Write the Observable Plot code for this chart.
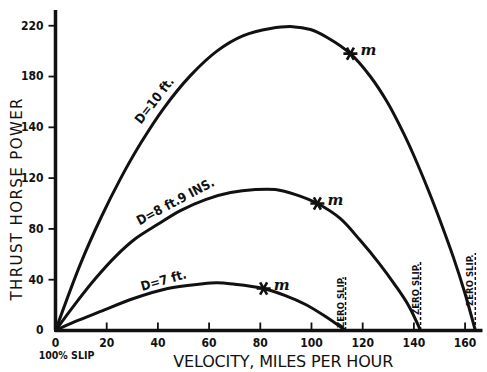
<!DOCTYPE html>
<html>
<head>
<meta charset="utf-8">
<script src="https://cdn.jsdelivr.net/npm/d3@7"></script>
<script src="https://cdn.jsdelivr.net/npm/@observablehq/plot@0.6"></script>
<style>
  html, body { margin: 0; padding: 0; background: #fff; }
  #chart svg { display: block; }
</style>
</head>
<body>
<div id="chart"></div>
<script>
// Thrust horse power of a propeller against velocity, for three diameters.

// Series names
const seriesNames = ["D=10 ft.", "D=8 ft.9 INS.", "D=7 ft."];

// D = 10 ft.
const velocity10 = [0, 9.8, 17.6, 25.4, 33.2, 42.2, 52.7, 63.3, 73.4, 84.0, 92.6, 99.6, 106.3, 115.2, 123.0, 129.7, 135.9, 139.8, 145.7, 150.8, 155.5, 159.8, 164.0];
const thrust10   = [0, 52.7, 88.2, 119.6, 133.6, 154.8, 180.7, 200.4, 212.2, 217.8, 219.3, 217.0, 210.6, 198.0, 180.0, 159.5, 137.8, 129.3, 110.2, 83.5, 57.2, 30.3, 0];

// D = 8 ft. 9 ins.
const velocity875 = [0, 7.8, 15.6, 23.4, 31.3, 39.8, 48.8, 58.6, 68.4, 78.1, 85.9, 93.8, 102.3, 111.3, 119.1, 126.2, 132.8, 137.9, 142.6];
const thrust875   = [0, 21.2, 40.9, 58.2, 72.4, 83.4, 94.4, 103.1, 108.6, 111.0, 111.0, 107.0, 100.0, 88.1, 70.8, 53.5, 35.4, 19.7, 0];

// D = 7 ft.
const velocity7 = [0, 7.8, 17.6, 30.5, 43.8, 56.6, 63.0, 69.5, 81.3, 89.8, 97.7, 105.5, 113.3];
const thrust7   = [0, 7.1, 15.0, 25.2, 33.1, 36.6, 37.6, 36.6, 33.1, 27.5, 20.5, 11.0, 0];

// Points marked "m" on each curve (same order as seriesNames)
const mVelocity = [115.2, 102.3, 81.3];
const mThrust   = [198.0, 100.0, 33.1];

// Zero-slip velocities (where each curve meets the axis) and height of the dashed marker
const zeroSlipVelocity = [164.0, 142.6, 113.3];
const zeroSlipHeight   = [60.6, 53.5, 43.3];

// Axis ticks as printed
const xTicks = [0, 20, 40, 60, 80, 100, 120, 140, 160];
const yTicks = [0, 40, 80, 120, 140, 180, 220];
const yTop = 232;

const xTitle = "VELOCITY, MILES PER HOUR";
const yTitle = "THRUST HORSE POWER";
const slipNote = "100% SLIP";
const zeroSlipNote = "ZERO SLIP.";
const markNote = "m";

// ---- build tables ----
const seriesX = [velocity10, velocity875, velocity7];
const seriesY = [thrust10, thrust875, thrust7];
const rows = seriesNames.flatMap((name, s) =>
  seriesX[s].map((v, i) => ({series: name, velocity: v, thrust: seriesY[s][i]})));
const marked = seriesNames.map((name, i) => ({series: name, velocity: mVelocity[i], thrust: mThrust[i]}));
const zeroSlip = zeroSlipVelocity.map((v, i) => ({velocity: v, top: zeroSlipHeight[i]}));

// ---- layout ----
const W = 487, H = 372;
const mL = 55, mR = 4.5, mT = 10, mB = 42;
const bottom = H - mB;
// printed ticks are evenly spaced, so the y scale is piecewise linear
const step = (bottom - mT) / (yTicks.length - 1 + (yTop - yTicks[yTicks.length - 1]) / 40);
const yDomain = [...yTicks, yTop];
const yRange = yTicks.map((_, i) => bottom - i * step).concat(mT);

const ink = "#111";
const tickFont = "DejaVu Sans Condensed";
const titleFont = "DejaVu Sans";

// six-armed star used for the "m" points
const star = {
  draw(context, size) {
    const r = Math.sqrt(size / Math.PI);
    for (const a of [0, Math.PI / 3, 2 * Math.PI / 3]) {
      const dx = r * Math.cos(a), dy = r * Math.sin(a);
      context.moveTo(-dx, -dy);
      context.lineTo(dx, dy);
    }
  }
};
// short tick strokes: x ticks point up into the plot, y ticks point left
const tickUp = {draw(context) { context.moveTo(0, 0); context.lineTo(0, -8); }};
const tickLeft = {draw(context) { context.moveTo(0, 0); context.lineTo(-7, 0); }};

function seriesLabel(s, index, dx, dy, rotate, fontSize) {
  const name = seriesNames[s];
  return Plot.text([{velocity: seriesX[s][index], thrust: seriesY[s][index], name}], {
    x: "velocity", y: "thrust", text: "name",
    dx, dy, rotate, fontSize, fontFamily: tickFont, fontWeight: "bold", fill: ink
  });
}

const chart = Plot.plot({
  width: W,
  height: H,
  marginLeft: mL,
  marginRight: mR,
  marginTop: mT,
  marginBottom: mB,
  style: {background: "#fff", color: ink, fontFamily: tickFont},
  x: {domain: [0, 167]},
  y: {type: "linear", domain: yDomain, range: yRange},
  marks: [
    Plot.axisX(xTicks, {
      tickSize: 0, tickPadding: 8, label: null,
      fontSize: 12, fontWeight: "bold", fill: ink
    }),
    Plot.axisY(yTicks, {
      tickSize: 0, tickPadding: 12, label: null,
      fontSize: 12, fontWeight: "bold", fill: ink
    }),
    Plot.dot(xTicks.slice(1), {x: d => d, y: () => 0, symbol: tickUp, r: 1, stroke: ink, strokeWidth: 1.8}),
    Plot.dot(yTicks.slice(1), {x: () => 0, y: d => d, symbol: tickLeft, r: 1, stroke: ink, strokeWidth: 1.8}),
    Plot.ruleX([0], {y1: 0, y2: yTop, stroke: ink, strokeWidth: 3.5}),
    Plot.ruleY([0], {stroke: ink, strokeWidth: 3.5}),

    // zero-slip markers
    Plot.ruleX(zeroSlip, {x: "velocity", y1: 0, y2: "top", stroke: ink, strokeWidth: 1.5, strokeDasharray: "3,2"}),
    Plot.text(zeroSlip, {
      x: "velocity", y: "top", text: () => zeroSlipNote, rotate: -90,
      textAnchor: "end", lineAnchor: "bottom", dx: -2, dy: 1,
      fontSize: 9.5, fontWeight: "bold", fontFamily: tickFont, fill: ink
    }),

    // curves
    Plot.line(rows, {x: "velocity", y: "thrust", z: "series", curve: "catmull-rom", stroke: ink, strokeWidth: 3}),

    // marked points
    Plot.dot(marked, {x: "velocity", y: "thrust", symbol: star, r: 7, stroke: ink, strokeWidth: 2.6, fill: "none"}),
    Plot.text(marked, {
      x: "velocity", y: "thrust", text: () => markNote, dx: 18, dy: -3,
      fontFamily: "DejaVu Serif", fontStyle: "italic", fontWeight: "bold", fontSize: 15, fill: ink
    }),

    // curve labels
    seriesLabel(0, 5, -9, -8, -52, 13),
    seriesLabel(1, 6, -5, -9, -28, 13),
    seriesLabel(2, 4, -4, -8, -16, 13),

    // notes and titles
    Plot.text([0], {x: d => d, y: d => d, text: () => slipNote, dx: 11, dy: 25, fontSize: 10.5, fontWeight: "bold", fontFamily: tickFont, fill: ink}),
    Plot.text([xTitle], {frameAnchor: "bottom", text: d => d, textAnchor: "middle", lineAnchor: "middle", dx: 14, dy: 31, fontSize: 16, fontFamily: titleFont, fill: ink}),
    Plot.text([yTitle], {frameAnchor: "left", text: d => d, textAnchor: "middle", lineAnchor: "middle", dx: -38, dy: 29, rotate: -90, fontSize: 15, fontFamily: titleFont, fill: ink})
  ]
});

// spread the axis titles over the same length as the printed lettering
const titleLength = new Map([[xTitle, 220], [yTitle, 202]]);
d3.select(chart).selectAll("text")
  .filter(function() { return titleLength.has(this.textContent); })
  .attr("textLength", function() { return titleLength.get(this.textContent); })
  .attr("lengthAdjust", "spacing");

document.getElementById("chart").append(chart);
</script>
</body>
</html>
